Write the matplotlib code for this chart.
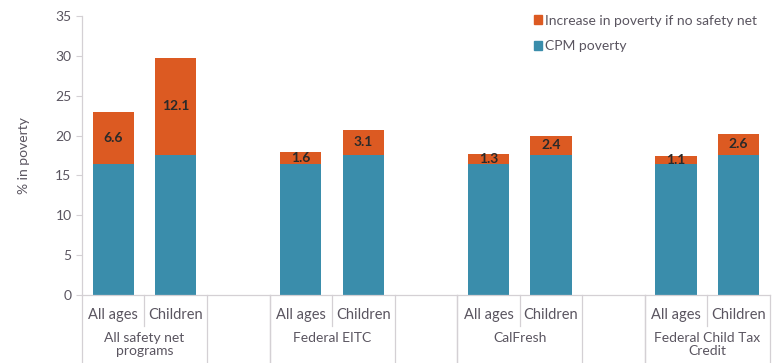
"""Render out.png: poverty with and without safety net programs, stacked bars."""

import matplotlib
matplotlib.use("Agg")
import matplotlib.pyplot as plt
import matplotlib.transforms as mtransforms
from matplotlib.patches import Patch

OUT = "out.png"

GROUPS = ["All safety net\nprograms", "Federal EITC", "CalFresh", "Federal Child Tax\nCredit"]
SUBGROUPS = ["All ages", "Children"]
CPM_POVERTY = [16.4, 17.6, 16.4, 17.6, 16.4, 17.6, 16.4, 17.6]
INCREASE = [6.6, 12.1, 1.6, 3.1, 1.3, 2.4, 1.1, 2.6]

ORANGE = "#dc5a22"
TEAL = "#3a8dab"
TEXT = "#5a5560"
LINE = "#d4d0d4"

plt.rcParams["font.family"] = ["Lato", "DejaVu Sans"]

fig = plt.figure(figsize=(7.73, 3.63), dpi=100)
ax = fig.add_axes([0.106, 0.187, 0.890, 0.769])

# each group takes 3 slots: two bars and a gap
xs = []
for g in range(len(GROUPS)):
    xs += [g * 3, g * 3 + 1]

ax.bar(xs, CPM_POVERTY, width=0.66, color=TEAL, label="CPM poverty")
ax.bar(xs, INCREASE, width=0.66, bottom=CPM_POVERTY, color=ORANGE,
       label="Increase in poverty if no safety net")
for x, base, inc in zip(xs, CPM_POVERTY, INCREASE):
    ax.text(x, base + inc / 2, f"{inc:.1f}", ha="center", va="center",
            fontsize=10, fontweight="bold", color="#2a2a2a")

ax.set_xlim(-0.5, 10.5)
ax.set_ylim(0, 35)
ax.set_yticks(range(0, 36, 5))
ax.tick_params(axis="y", labelsize=10, colors=TEXT, length=4, color=LINE)
ax.set_xticks([])
ax.set_ylabel("% in poverty", fontsize=10, color=TEXT, labelpad=18)

for side in ("top", "right"):
    ax.spines[side].set_visible(False)
for side in ("left", "bottom"):
    ax.spines[side].set_color(LINE)
    ax.spines[side].set_linewidth(0.9)

# two-level category axis
trans = mtransforms.blended_transform_factory(ax.transData, ax.transAxes)
for g, name in enumerate(GROUPS):
    left = g * 3 - 0.5
    for i, sub in enumerate(SUBGROUPS):
        ax.text(left + 0.5 + i, -0.072, sub, transform=trans, ha="center",
                va="center", fontsize=10.5, color=TEXT)
    ax.text(left + 1, -0.133, name, transform=trans, ha="center", va="top",
            fontsize=10, color=TEXT, linespacing=1.05)
    # short divider between the two bars, long ones around the group
    ax.plot([left + 1, left + 1], [0, -0.11], transform=trans,
            color=LINE, lw=0.9, clip_on=False)
    for edge in (left, left + 2):
        ax.plot([edge, edge], [0, -0.25], transform=trans,
                color=LINE, lw=0.9, clip_on=False)
    if g < len(GROUPS) - 1:
        ax.plot([left + 3, left + 3], [0, -0.25], transform=trans,
                color=LINE, lw=0.9, clip_on=False)

handles = [Patch(color=ORANGE, label="Increase in poverty if no safety net"),
           Patch(color=TEAL, label="CPM poverty")]
leg = ax.legend(handles=handles, loc="upper right", bbox_to_anchor=(1.0, 1.05),
                frameon=False, fontsize=10, handlelength=0.55, handleheight=0.55,
                handletextpad=0.25, labelspacing=1.0, labelcolor=TEXT)

fig.savefig(OUT, dpi=100)
